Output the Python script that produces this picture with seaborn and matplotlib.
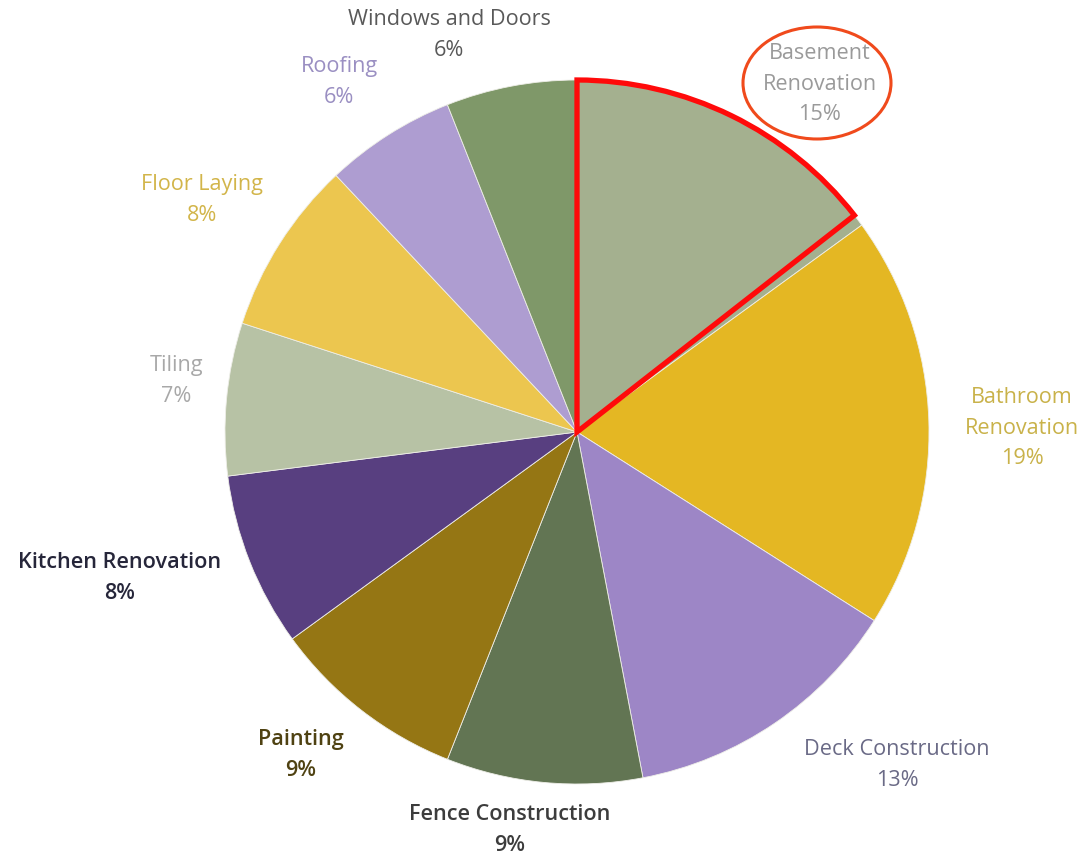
import matplotlib
matplotlib.use("Agg")
import matplotlib.pyplot as plt
import seaborn as sns
from matplotlib.patches import Wedge, Ellipse

sns.set_theme(style="white")
plt.rcParams['font.family'] = ['Open Sans', 'DejaVu Sans']

categories = ["Basement\nRenovation", "Bathroom\nRenovation", "Deck Construction",
              "Fence Construction", "Painting", "Kitchen Renovation", "Tiling",
              "Floor Laying", "Roofing", "Windows and Doors"]
shares = [15, 19, 13, 9, 9, 8, 7, 8, 6, 6]
slice_colors = ["#a4b08f", "#e4b723", "#9d86c6", "#627553", "#957614",
                "#583f80", "#b7c2a5", "#ecc64f", "#ae9dd1", "#7f9869"]
label_colors = ["#9a9a9a", "#c9b24a", "#6a6a86", "#3c3c3c", "#4f4212",
                "#26263a", "#a8a8a8", "#d2b54a", "#9a8fc2", "#595959"]
label_weights = ["normal", "normal", "normal", "semibold", "semibold",
                 "semibold", "normal", "normal", "normal", "normal"]
# label centres in pixel coordinates (x from left, y from top)
label_px = [(820, 84), (1022, 428), (897, 765), (510, 830), (301, 755),
            (120, 578), (176, 381), (202, 200), (339, 82), (449, 35)]

W, H = 1088, 854
cx, cy, R = 577, 433, 352

fig = plt.figure(figsize=(W / 100, H / 100), dpi=100)
ax = fig.add_axes([0, 0, 1, 1])

wedges, _ = ax.pie(shares, colors=slice_colors, startangle=90, counterclock=False,
                   radius=1.0, wedgeprops=dict(edgecolor="#eeeee8", linewidth=0.6))


def px2d(x, y):
    return ((x - cx) / R, (H - y - (H - cy)) / R)


for lab, sh, col, wt, (x, y) in zip(categories, shares, label_colors, label_weights, label_px):
    dx, dy = px2d(x, y)
    ax.text(dx, dy, f"{lab}\n{sh}%", ha="center", va="center", color=col,
            fontsize=15.6, fontweight=wt, linespacing=1.58)

# highlight: red outline on the basement slice and circle around its label
b = wedges[0]
ax.add_patch(Wedge((0, 0), 1.0, b.theta1 + 2, b.theta2, fill=False,
                   edgecolor="#ff0a0a", linewidth=3.8, joinstyle="miter"))
ex, ey = px2d(817, 84)
ax.add_patch(Ellipse((ex, ey), 148 / R, 112 / R, fill=False,
                     edgecolor="#f04a1c", linewidth=2.2))

ax.set_xlim(-cx / R, (W - cx) / R)
ax.set_ylim(-(H - cy) / R, cy / R)
ax.set_aspect("auto")
ax.axis("off")
fig.savefig("out.png", dpi=100, facecolor="white")
